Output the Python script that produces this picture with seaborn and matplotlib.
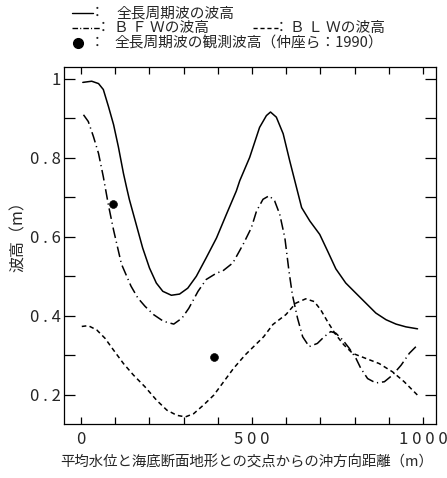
import matplotlib
matplotlib.use("Agg")
import matplotlib.pyplot as plt
from matplotlib.lines import Line2D
import seaborn as sns
import numpy as np

# ---- data ----
x_total = [5, 31, 51, 65, 80, 95, 109, 124, 133, 141, 161, 180, 200, 220, 239, 264, 288,
           312, 337, 366, 396, 425, 454, 464, 493, 522, 542, 554, 571, 591, 610, 630,
           645, 669, 698, 722, 745, 774, 804, 833, 862, 892, 921, 950, 984]
y_total = [0.991, 0.994, 0.988, 0.973, 0.930, 0.884, 0.828, 0.760, 0.725, 0.695, 0.632,
           0.572, 0.521, 0.483, 0.462, 0.452, 0.455, 0.470, 0.500, 0.547, 0.597, 0.657,
           0.716, 0.742, 0.801, 0.877, 0.907, 0.916, 0.903, 0.861, 0.793, 0.725, 0.674,
           0.640, 0.606, 0.562, 0.519, 0.483, 0.457, 0.432, 0.407, 0.390, 0.379, 0.372,
           0.367]

x_bfw = [7, 21, 36, 51, 65, 80, 95, 118, 146, 166, 187, 212, 241, 271, 295, 315, 342,
         366, 396, 415, 444, 474, 498, 513, 532, 550, 566, 581, 596, 608, 618, 633, 648,
         667, 691, 711, 730, 745, 765, 784, 804, 818, 838, 862, 887, 911, 936, 960, 984]
y_bfw = [0.909, 0.892, 0.854, 0.811, 0.752, 0.680, 0.617, 0.531, 0.475, 0.445, 0.424,
         0.403, 0.386, 0.379, 0.394, 0.419, 0.462, 0.492, 0.508, 0.514, 0.534, 0.581,
         0.623, 0.665, 0.695, 0.704, 0.691, 0.657, 0.597, 0.513, 0.453, 0.394, 0.347,
         0.322, 0.330, 0.347, 0.360, 0.356, 0.339, 0.318, 0.292, 0.267, 0.241, 0.230,
         0.233, 0.250, 0.275, 0.305, 0.326]

x_blw = [2, 21, 46, 70, 95, 124, 153, 187, 221, 251, 280, 305, 329, 358, 388, 417, 446,
         480, 514, 534, 561, 599, 628, 657, 682, 701, 721, 745, 769, 794, 833, 872, 911,
         945, 984]
y_blw = [0.373, 0.375, 0.364, 0.343, 0.313, 0.279, 0.250, 0.220, 0.186, 0.161, 0.148,
         0.144, 0.152, 0.174, 0.199, 0.233, 0.267, 0.301, 0.330, 0.347, 0.378, 0.403,
         0.432, 0.443, 0.436, 0.415, 0.385, 0.352, 0.326, 0.305, 0.292, 0.279, 0.258,
         0.233, 0.199]

x_obs = [92, 388]
y_obs = [0.684, 0.296]

x_tick_vals = [0, 500, 1000]
x_tick_labels = ["0", "5 0 0", "1 0 0 0"]
y_tick_vals = [0.2, 0.4, 0.6, 0.8, 1.0]
y_tick_labels = ["0 . 2", "0 . 4", "0 . 6", "0 . 8", "1"]

legend_total = "全長周期波の波高"
legend_bfw = "Ｂ Ｆ Ｗの波高"
legend_blw = "Ｂ Ｌ Ｗの波高"
legend_obs = "全長周期波の観測波高（仲座ら：1990）"
xlabel = "平均水位と海底断面地形との交点からの沖方向距離（m）"
ylabel = "波高（m）"

# ---- style ----
sns.set_style("ticks")
plt.rcParams['font.family'] = ['Noto Sans CJK JP', 'DejaVu Sans']

W, H = 447, 478
fig = plt.figure(figsize=(W / 100, H / 100), dpi=100)
ax = fig.add_axes([64 / W, 1 - 424 / H, (436 - 64) / W, (424 - 67) / H])

lw = 1.1
sns.lineplot(x=x_total, y=y_total, ax=ax, color="black", linewidth=lw, estimator=None)
sns.lineplot(x=x_bfw, y=y_bfw, ax=ax, color="black", linewidth=lw, estimator=None,
             linestyle=(0, (7, 2.5, 0.8, 2.5)))
sns.lineplot(x=x_blw, y=y_blw, ax=ax, color="black", linewidth=lw, estimator=None,
             linestyle=(0, (3, 2.2)))
sns.scatterplot(x=x_obs, y=y_obs, ax=ax, color="black", s=32, edgecolor="black", zorder=5)

ax.set_xlim(-50, 1038)
ax.set_ylim(0.126, 1.03)

ax.set_xticks(x_tick_vals)
ax.set_xticklabels(x_tick_labels, fontsize=12)
ax.set_xticks(np.arange(100, 1000, 100), minor=True)
ax.set_yticks(y_tick_vals)
ax.set_yticklabels(y_tick_labels, fontsize=12)
ax.set_yticks([0.3, 0.5, 0.7, 0.9], minor=True)

ax.tick_params(axis="both", which="both", direction="in", top=True, right=True,
               color="black", width=0.9)
ax.tick_params(axis="x", which="both", length=5, pad=5)
ax.tick_params(axis="y", which="both", length=8, pad=2)
for s in ax.spines.values():
    s.set_linewidth(0.9)
    s.set_color("black")

ax.set_xlabel("")
ax.set_ylabel("")
fig.text(247 / W, 1 - 463 / H, xlabel, ha="center", va="center", fontsize=10.4)
fig.text(18 / W, 1 - 233 / H, ylabel, ha="center", va="center", rotation=90, fontsize=11.5)

# ---- legend drawn in figure coordinates ----
def fy(py):
    return 1 - py / H

def fx(px):
    return px / W

fs = 10.6
fig.add_artist(Line2D([fx(72), fx(93)], [fy(13), fy(13)], color="black", lw=1.0))
fig.text(fx(90), fy(13), "：", ha="left", va="center", fontsize=fs)
fig.text(fx(116), fy(13), legend_total, ha="left", va="center", fontsize=fs)

fig.add_artist(Line2D([fx(72), fx(100)], [fy(28), fy(28)], color="black", lw=1.0,
                      linestyle=(0, (4, 1.5, 0.8, 1.5))))
fig.text(fx(96), fy(28), "：", ha="left", va="center", fontsize=fs)
fig.text(fx(114), fy(28), legend_bfw, ha="left", va="center", fontsize=fs)

fig.add_artist(Line2D([fx(253), fx(279)], [fy(28), fy(28)], color="black", lw=1.0,
                      linestyle=(0, (3, 2))))
fig.text(fx(274), fy(28), "：", ha="left", va="center", fontsize=fs)
fig.text(fx(290), fy(28), legend_blw, ha="left", va="center", fontsize=fs)

fig.add_artist(Line2D([fx(78)], [fy(43)], color="black", marker="o", markersize=7,
                      linestyle="none"))
fig.text(fx(90), fy(43), "：", ha="left", va="center", fontsize=fs)
fig.text(fx(114), fy(43), legend_obs, ha="left", va="center", fontsize=fs)

fig.savefig("out.png", dpi=100)
